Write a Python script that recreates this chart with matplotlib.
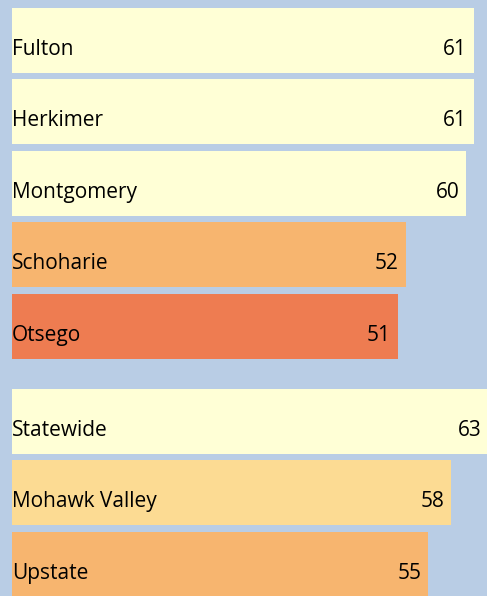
import matplotlib.pyplot as plt

# County scores, then the regional comparison group
counties = ['Fulton', 'Herkimer', 'Montgomery', 'Schoharie', 'Otsego']
county_scores = [61, 61, 60, 52, 51]
county_colors = ['#FFFFD6', '#FFFFD6', '#FFFFD6', '#F7B56F', '#EE7C51']

regions = ['Statewide', 'Mohawk Valley', 'Upstate']
region_scores = [63, 58, 55]
region_colors = ['#FFFFD6', '#FCDB93', '#F7B56F']

BG = '#B9CDE5'
GROUP_GAP = 0.33  # extra space between the two groups, in rows

labels = counties + regions
scores = county_scores + region_scores
colors = county_colors + region_colors
ypos = list(range(len(counties))) + [len(counties) + GROUP_GAP + i for i in range(len(regions))]

fig = plt.figure(figsize=(4.87, 5.96), dpi=100, facecolor=BG)
ax = fig.add_axes([0, 0, 1, 1])
ax.set_facecolor(BG)

ax.barh(ypos, scores, height=0.91, color=colors, left=0)

font = dict(fontsize=15, family='Open Sans', color='black')
for y, name, val in zip(ypos, labels, scores):
    ax.annotate(name, (0, y), xytext=(0, -14.5), textcoords='offset pixels',
                ha='left', va='baseline', annotation_clip=False, **font)
    ax.annotate(str(val), (val, y), xytext=(-7, -14.5), textcoords='offset pixels',
                ha='right', va='baseline', annotation_clip=False, **font)

ax.set_xlim(-12 / 7.57, 475 / 7.57)
ax.set_ylim(555.5 / 71.43, -40.5 / 71.43)
ax.axis('off')

fig.savefig('out.png', dpi=100, facecolor=BG)
